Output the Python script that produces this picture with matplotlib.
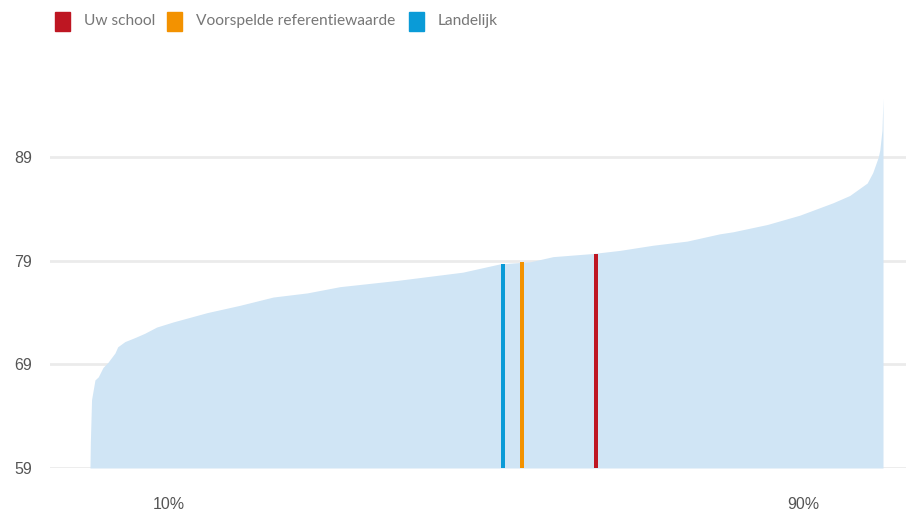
import matplotlib
matplotlib.use('Agg')
import matplotlib.pyplot as plt
from matplotlib.patches import Rectangle

# sorted school scores (percentile of schools -> score)
pct = [0, 0.05, 0.2, 0.63, 1.05, 1.64, 2.27, 3.15, 3.5, 4.4, 5.7, 6.9, 8.4, 10.5,
       14.8, 18.9, 23.1, 27.4, 31.5, 38.7, 47.0, 51.7, 55.5, 58.4, 63.4, 66.8,
       71.0, 75.3, 79.4, 81.1, 85.4, 89.5, 93.7, 95.8, 98.0, 98.7, 99.4, 99.6,
       99.87, 100]
score = [59.0, 61.5, 65.6, 67.5, 67.8, 68.7, 69.2, 70.1, 70.7, 71.2, 71.6, 72.0, 72.6, 73.1,
         74.0, 74.7, 75.5, 75.9, 76.5, 77.1, 77.9, 78.7, 78.9, 79.4, 79.7, 80.0,
         80.5, 80.9, 81.6, 81.8, 82.5, 83.4, 84.6, 85.3, 86.5, 87.5, 89.0, 89.7,
         91.6, 94.7]

# markers: label, position (percentile), value, colour
markers = ['Uw school', 'Voorspelde referentiewaarde', 'Landelijk']
marker_pos = [63.8, 54.5, 52.1]
marker_val = [79.7, 78.9, 78.7]
marker_col = ['#be1622', '#f39200', '#0a9bd7']

yticks = [59, 69, 79, 89]
xticks = [10, 90]
xticklabels = ['10%', '90%']

fig = plt.figure(figsize=(9.06, 5.13), dpi=100)
ax = fig.add_axes([50/906, 45/513, 856/906, 373/513])

ax.fill_between(pct, 59, score, color='#d0e5f5', lw=0, zorder=2)
ax.bar(marker_pos, [v - 59 for v in marker_val], bottom=59, width=0.5,
       color=marker_col, zorder=3)

ax.set_xlim(-5.04, 102.9)
ax.set_ylim(59, 95)
ax.set_yticks(yticks)
ax.set_yticklabels([str(t) for t in yticks], family='Liberation Sans')
ax.set_xticks(xticks)
ax.set_xticklabels(xticklabels, family='Liberation Sans')
ax.tick_params(axis='y', length=0, pad=13, labelsize=11.5, labelcolor='#555555')
ax.tick_params(axis='x', length=0, pad=21, labelsize=11.5, labelcolor='#555555')
ax.grid(axis='y', color='#ebebeb', lw=2, zorder=1)
ax.set_axisbelow(True)
for s in ax.spines.values():
    s.set_visible(False)

# legend at the top
W, H = 906, 513
sq_x = [55, 167, 409]
txt_x = [84, 196, 438]
for x0, tx, lab, c in zip(sq_x, txt_x, markers, marker_col):
    fig.patches.append(Rectangle((x0/W, 1 - 31/H), 15/W, 19/H, color=c,
                                 transform=fig.transFigure, figure=fig))
    fig.text(tx/W, 1 - 21/H, lab, fontsize=11.2, color='#777777', va='center',
             ha='left', family='Lato')

fig.savefig('out.png', dpi=100)
